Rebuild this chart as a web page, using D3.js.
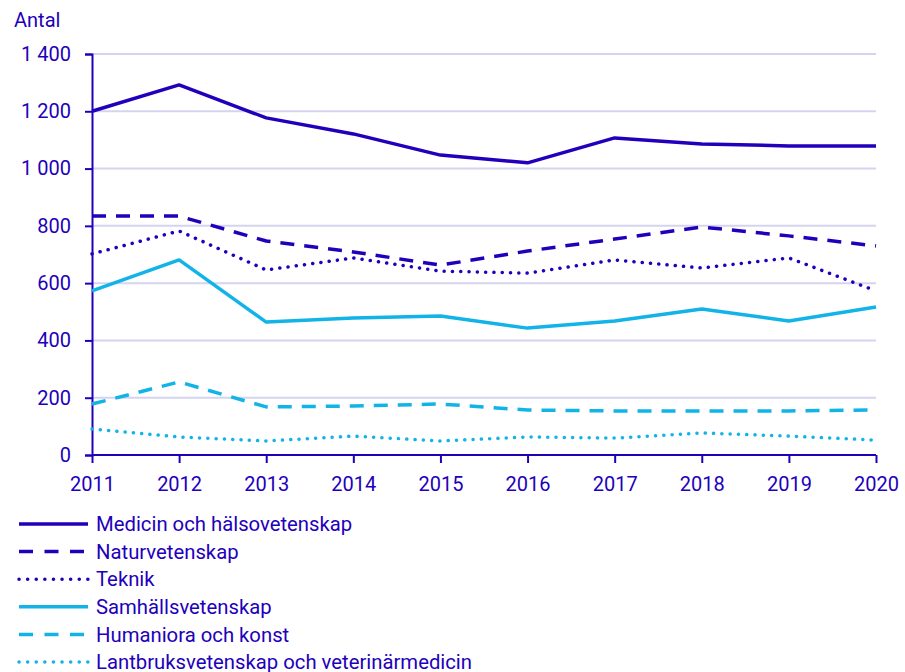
<!DOCTYPE html>
<html lang="sv">
<head>
    <meta charset="UTF-8">
    <title>Antal</title>
    <script src="https://d3js.org/d3.v7.min.js"></script>
</head>
<style>
    html,body {
        margin: 0;
        padding: 0;
        background: #fff;
    }
    text {
        font-family: Roboto, "Noto Sans", sans-serif;
    }
</style>
<body>
    <div id="chart"></div>
</body>
<script>
    const years = [2011, 2012, 2013, 2014, 2015, 2016, 2017, 2018, 2019, 2020];
    const seriesNames = [
        'Medicin och hälsovetenskap',
        'Naturvetenskap',
        'Teknik',
        'Samhällsvetenskap',
        'Humaniora och konst',
        'Lantbruksvetenskap och veterinärmedicin'
    ];
    const medicin = [1200, 1292, 1177, 1121, 1047, 1020, 1107, 1086, 1079, 1079];
    const naturvet = [834, 834, 747, 709, 663, 712, 754, 796, 765, 730];
    const teknik = [702, 782, 646, 688, 642, 635, 681, 653, 688, 573];
    const samhall = [573, 681, 464, 478, 485, 443, 468, 510, 468, 517];
    const humaniora = [178, 255, 168, 171, 178, 157, 154, 154, 154, 157];
    const lantbruk = [91, 63, 49, 66, 49, 63, 59, 77, 66, 52];
    const yTicks = [0, 200, 400, 600, 800, 1000, 1200, 1400];

    const dark = '#2200bb';
    const light = '#12b4e8';
    const styles = [
        {color: dark, dash: null, cap: 'butt'},
        {color: dark, dash: '14,10', cap: 'butt'},
        {color: dark, dash: '0.1,8.2', cap: 'round'},
        {color: light, dash: null, cap: 'butt'},
        {color: light, dash: '14,10', cap: 'butt'},
        {color: light, dash: '0.1,8.2', cap: 'round'}
    ];
    const allSeries = [medicin, naturvet, teknik, samhall, humaniora, lantbruk];

    const width = 905, height = 672;
    const margin = {top: 54, right: 29, bottom: 217, left: 92};

    const svg = d3.select('#chart').append('svg')
        .attr('width', width)
        .attr('height', height);

    const x = d3.scalePoint().domain(years).range([margin.left, width - margin.right]);
    const y = d3.scaleLinear().domain([0, 1400]).range([height - margin.bottom, margin.top]);

    // gridlines
    svg.append('g').selectAll('line').data(yTicks.filter(d => d > 0)).enter().append('line')
        .attr('x1', margin.left).attr('x2', width - margin.right)
        .attr('y1', d => y(d)).attr('y2', d => y(d))
        .attr('stroke', '#d4d4f0').attr('stroke-width', 2);

    // y axis
    const yAxis = svg.append('g')
        .attr('transform', `translate(${margin.left},0)`)
        .call(d3.axisLeft(y).tickValues(yTicks).tickSize(7).tickPadding(14).tickFormat(d => d3.format(',')(d).replace(/,/g, ' ')));
    yAxis.select('.domain').attr('stroke', dark).attr('stroke-width', 2);
    yAxis.selectAll('.tick line').attr('stroke', dark).attr('stroke-width', 2);
    yAxis.selectAll('text').attr('fill', dark).attr('font-size', '20px')
        .attr('font-family', 'Roboto, sans-serif');

    // x axis
    const xAxis = svg.append('g')
        .attr('transform', `translate(0,${y(0)})`)
        .call(d3.axisBottom(x).tickSize(8).tickPadding(14).tickFormat(d => d));
    xAxis.select('.domain').attr('stroke', dark).attr('stroke-width', 2)
        .attr('d', `M${margin.left},0H${width - margin.right}`);
    xAxis.selectAll('.tick line').attr('stroke', dark).attr('stroke-width', 2);
    xAxis.selectAll('text').attr('fill', dark).attr('font-size', '20px')
        .attr('font-family', 'Roboto, sans-serif');

    svg.append('text')
        .attr('x', 14).attr('y', 27)
        .attr('fill', dark).attr('font-size', '20px')
        .text('Antal');

    // lines
    const line = d3.line()
        .x((d, i) => x(years[i]))
        .y(d => y(d));

    svg.append('g').selectAll('path').data(allSeries).enter().append('path')
        .attr('d', d => line(d))
        .attr('fill', 'none')
        .attr('stroke', (d, i) => styles[i].color)
        .attr('stroke-width', 3.5)
        .attr('stroke-dasharray', (d, i) => styles[i].dash)
        .attr('stroke-linecap', (d, i) => styles[i].cap)
        .attr('stroke-linejoin', 'round');

    // legend
    const legend = svg.append('g').selectAll('g').data(seriesNames).enter().append('g')
        .attr('transform', (d, i) => `translate(18,${524 + i * 27.6})`);
    legend.append('line')
        .attr('x1', 1).attr('x2', 70).attr('y1', 0).attr('y2', 0)
        .attr('stroke', (d, i) => styles[i].color)
        .attr('stroke-width', 3.5)
        .attr('stroke-dasharray', (d, i) => styles[i].dash ? (styles[i].cap === 'round' ? '0.1,8.5' : '14,11.5') : null)
        .attr('stroke-linecap', (d, i) => styles[i].cap);
    legend.append('text')
        .attr('x', 78).attr('y', 0).attr('dy', '0.35em')
        .attr('fill', dark).attr('font-size', '20.3px')
        .text(d => d);
</script>
</html>
